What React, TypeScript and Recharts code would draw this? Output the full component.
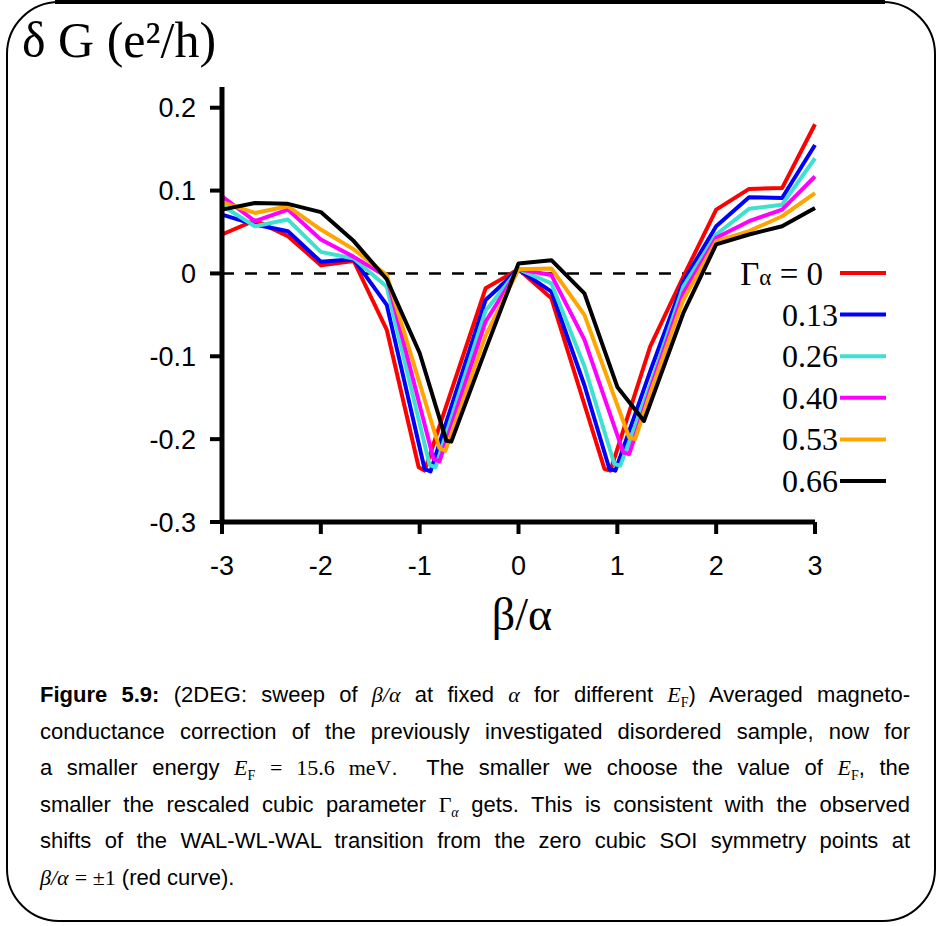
import React from 'react';
import { LineChart, Line, XAxis, YAxis, ReferenceLine } from 'recharts';

// each curve: [beta/alpha, delta G]
const gamma000: [number, number][] = [
  [-3, 0.047], [-2.667, 0.064], [-2.333, 0.045], [-2, 0.01], [-1.667, 0.015], [-1.333, -0.068],
  [-1.01, -0.234], [-0.95, -0.238], [-0.333, -0.018], [0, 0.005], [0.333, -0.03],
  [0.87, -0.236], [0.93, -0.238], [1.333, -0.088], [1.667, -0.004], [2, 0.077],
  [2.333, 0.102], [2.667, 0.103], [3, 0.18],
];
const gamma013: [number, number][] = [
  [-3, 0.071], [-2.667, 0.059], [-2.333, 0.051], [-2, 0.014], [-1.667, 0.017], [-1.333, -0.038],
  [-0.95, -0.236], [-0.89, -0.239], [-0.333, -0.032], [0, 0.005], [0.333, -0.022], [0.667, -0.135],
  [0.92, -0.236], [0.98, -0.238], [1.333, -0.118], [1.667, -0.01], [2, 0.057],
  [2.333, 0.092], [2.667, 0.091], [3, 0.155],
];
const gamma026: [number, number][] = [
  [-3, 0.082], [-2.667, 0.057], [-2.333, 0.065], [-2, 0.026], [-1.667, 0.018], [-1.333, -0.016],
  [-0.9, -0.231], [-0.84, -0.234], [-0.333, -0.045], [0, 0.005], [0.333, -0.012], [0.667, -0.112],
  [0.97, -0.23], [1.03, -0.232], [1.333, -0.135], [1.667, -0.016], [2, 0.047],
  [2.333, 0.078], [2.667, 0.083], [3, 0.139],
];
const gamma040: [number, number][] = [
  [-3, 0.093], [-2.667, 0.063], [-2.333, 0.077], [-2, 0.041], [-1.667, 0.02], [-1.333, -0.004],
  [-0.86, -0.224], [-0.8, -0.227], [-0.333, -0.058], [0, 0.005], [0.333, -0.002], [0.667, -0.08],
  [1.06, -0.216], [1.12, -0.218], [1.333, -0.14], [1.667, -0.024], [2, 0.043],
  [2.333, 0.063], [2.667, 0.077], [3, 0.117],
];
const gamma053: [number, number][] = [
  [-3, 0.086], [-2.667, 0.073], [-2.333, 0.081], [-2, 0.053], [-1.667, 0.029], [-1.333, -0.002],
  [-0.8, -0.211], [-0.74, -0.214], [-0.333, -0.075], [0, 0.005], [0.333, 0.006], [0.667, -0.05],
  [1.12, -0.198], [1.18, -0.2], [1.333, -0.145], [1.667, -0.032], [2, 0.039],
  [2.333, 0.051], [2.667, 0.069], [3, 0.097],
];
const gamma066: [number, number][] = [
  [-3, 0.077], [-2.667, 0.085], [-2.333, 0.084], [-2, 0.074], [-1.667, 0.039], [-1.333, -0.007],
  [-1.0, -0.096], [-0.73, -0.202], [-0.68, -0.203], [-0.333, -0.092], [0, 0.012], [0.333, 0.016],
  [0.667, -0.024], [1.0, -0.137], [1.27, -0.178], [1.667, -0.048], [2, 0.035],
  [2.333, 0.047], [2.667, 0.057], [3, 0.079],
];

const gammaLabels = ['0', '0.13', '0.26', '0.40', '0.53', '0.66'];
const colors = ['#ff0000', '#0000ff', '#40e0d0', '#ff00ff', '#ffa500', '#000000'];
const xTicks = [-3, -2, -1, 0, 1, 2, 3];
const yTicks = [-0.3, -0.2, -0.1, 0, 0.1, 0.2];

const curves = [gamma000, gamma013, gamma026, gamma040, gamma053, gamma066];

const serif = '"Liberation Serif", "DejaVu Serif", serif';
const sans = '"Liberation Sans", Arial, sans-serif';

const tickStyle = { fontFamily: sans, fontSize: 27, fill: '#000' };

const Overlay = () => (
  <svg width={939} height={926} style={{ position: 'absolute', left: 0, top: 0, pointerEvents: 'none' }}>
    {gammaLabels.map((g, i) => {
      const y = 273 + i * 41.6;
      return (
        <g key={g}>
          {i === 0 ? (
            <text x={823} y={y + 12} textAnchor="end" fontFamily={serif} fontSize={33}>
              Γ<tspan fontSize={23}>α</tspan> = {g}
            </text>
          ) : (
            <text x={838} y={y + 11} textAnchor="end" fontFamily={serif} fontSize={32}>{g}</text>
          )}
          <line x1={840} x2={886} y1={y} y2={y} stroke={colors[i]} strokeWidth={4} />
        </g>
      );
    })}
    <text x={22} y={57} fontFamily={serif} fontSize={50}>δ G (e²/h)</text>
    <text x={522} y={630} textAnchor="middle" fontFamily={serif} fontSize={46}>β/α</text>
    <rect x={7} y={2} width={928} height={919} rx={52} ry={52} fill="none" stroke="#000" strokeWidth={2} />
    <line x1={55} x2={885} y1={2} y2={2} stroke="#000" strokeWidth={4} />
  </svg>
);

const m = { fontFamily: serif, fontStyle: 'italic' as const };
const EF = () => (
  <span><span style={m}>E</span><sub style={{ fontFamily: serif, fontSize: 14 }}>F</sub></span>
);

const captionLines: React.ReactNode[] = [
  <><b>Figure 5.9:</b> (2DEG: sweep of <span style={m}>β/α</span> at fixed <span style={m}>α</span> for different <EF />) Averaged magneto-</>,
  <>conductance correction of the previously investigated disordered sample, now for</>,
  <>a smaller energy <EF /> <span style={{ fontFamily: serif }}>= 15.6 meV</span>.&nbsp; The smaller we choose the value of <EF />, the</>,
  <>smaller the rescaled cubic parameter <span style={{ fontFamily: serif }}>Γ</span><sub style={{ ...m, fontSize: 14 }}>α</sub> gets. This is consistent with the observed</>,
  <>shifts of the WAL-WL-WAL transition from the zero cubic SOI symmetry points at</>,
  <><span style={m}>β/α</span> <span style={{ fontFamily: serif }}>= ±1</span> (red curve).</>,
];

export default function App() {
  return (
    <div style={{ position: 'absolute', left: 0, top: 0, width: 939, height: 926, background: '#fff' }}>
      <LineChart width={939} height={660} margin={{ top: 87, left: 162, right: 124, bottom: 98 }}>
        <XAxis
          type="number"
          dataKey="x"
          domain={[-3, 3]}
          ticks={xTicks}
          height={40}
          tickSize={12}
          tickMargin={22}
          axisLine={{ stroke: '#000', strokeWidth: 5 }}
          tickLine={{ stroke: '#000', strokeWidth: 4 }}
          tick={tickStyle}
          tickFormatter={(v: number) => String(v)}
        />
        <YAxis
          type="number"
          domain={[-0.3, 0.225]}
          ticks={yTicks}
          width={60}
          tickSize={12}
          tickMargin={14}
          axisLine={{ stroke: '#000', strokeWidth: 5 }}
          tickLine={{ stroke: '#000', strokeWidth: 4 }}
          tick={tickStyle}
          tickFormatter={(v: number) => (v === 0 ? '0' : v.toFixed(1))}
          allowDataOverflow
        />
        <ReferenceLine
          segment={[{ x: -3, y: 0 }, { x: 1.95, y: 0 }]}
          stroke="#000"
          strokeWidth={2.5}
          strokeDasharray="12 11"
        />
        {curves.map((c, i) => (
          <Line
            key={gammaLabels[i]}
            data={c.map(([x, y]) => ({ x, y }))}
            dataKey="y"
            type="linear"
            stroke={colors[i]}
            strokeWidth={4}
            strokeLinejoin="round"
            dot={false}
            isAnimationActive={false}
          />
        ))}
      </LineChart>
      <Overlay />
      {captionLines.map((line, i) => (
        <div
          key={i}
          style={{
            position: 'absolute',
            left: 40,
            width: 870,
            top: 683 + i * 36.6,
            fontFamily: sans,
            fontSize: 22,
            lineHeight: '24px',
            textAlign: 'justify',
            textAlignLast: i === captionLines.length - 1 ? 'left' : 'justify',
            whiteSpace: 'nowrap',
          }}
        >
          {line}
        </div>
      ))}
    </div>
  );
}
